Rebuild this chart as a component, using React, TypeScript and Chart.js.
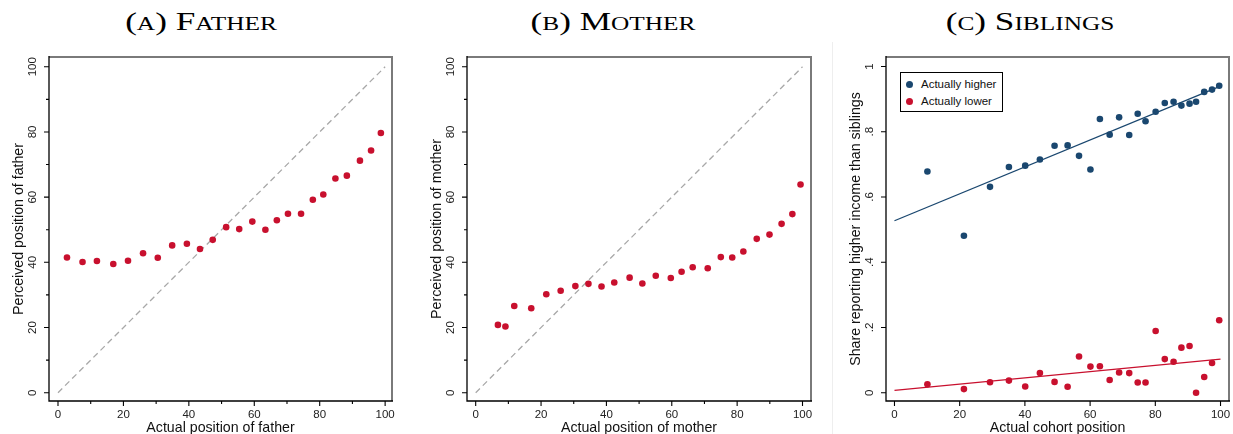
import React, { useEffect, useLayoutEffect, useRef, useState } from 'react';
import { Chart, registerables } from 'chart.js';

Chart.register(...registerables);

// ---------- Data ----------
const fatherX = [2.75, 7.5, 11.9, 16.9, 21.4, 26.0, 30.5, 34.9, 39.4, 43.4, 47.3, 51.4, 55.4, 59.4, 63.4, 66.9, 70.3, 74.3, 77.9, 81.1, 84.8, 88.3, 92.3, 95.7, 98.7];
const fatherY = [41.5, 40.1, 40.4, 39.5, 40.5, 42.8, 41.4, 45.2, 45.7, 44.1, 46.9, 50.8, 50.2, 52.5, 50.0, 52.9, 54.9, 54.9, 59.2, 60.8, 65.7, 66.6, 71.2, 74.3, 79.7];

const motherX = [6.8, 9.1, 11.8, 17.0, 21.6, 26.0, 30.5, 34.5, 38.5, 42.4, 47.1, 51.0, 55.1, 59.7, 63.0, 66.4, 71.0, 75.0, 78.5, 81.9, 86.0, 89.9, 93.6, 96.9, 99.4];
const motherY = [20.8, 20.3, 26.6, 25.9, 30.2, 31.3, 32.7, 33.4, 32.6, 33.8, 35.3, 33.5, 35.9, 35.2, 37.1, 38.5, 38.2, 41.6, 41.5, 43.3, 47.2, 48.5, 51.8, 54.8, 63.9];

const siblingsX = [10.1, 21.3, 29.3, 35.1, 40.1, 44.6, 49.1, 53.1, 56.6, 60.1, 63.0, 66.0, 68.9, 72.0, 74.6, 77.0, 80.1, 82.9, 85.6, 88.0, 90.5, 92.5, 95.0, 97.4, 99.6];
const actuallyHigher = [0.678, 0.481, 0.631, 0.692, 0.696, 0.715, 0.757, 0.758, 0.726, 0.684, 0.839, 0.791, 0.844, 0.790, 0.855, 0.832, 0.861, 0.888, 0.892, 0.880, 0.886, 0.892, 0.922, 0.929, 0.941];
const actuallyLower = [0.026, 0.011, 0.032, 0.037, 0.019, 0.060, 0.033, 0.018, 0.111, 0.080, 0.081, 0.039, 0.062, 0.060, 0.031, 0.031, 0.189, 0.103, 0.095, 0.138, 0.143, 0.000, 0.048, 0.091, 0.222];

// fitted lines (endpoints)
const fitX = [0, 100];
const fitHigher = [0.527, 0.940];
const fitLower = [0.007, 0.103];

// 45-degree reference line
const diagX = [0, 100];
const diagY = [0, 100];

// ticks
const posTicks = [0, 20, 40, 60, 80, 100];
const posMinorTicks = [10, 30, 50, 70, 90];
const posTickLabels = ['0', '20', '40', '60', '80', '100'];
const shareTicks = [0, 0.2, 0.4, 0.6, 0.8, 1];
const shareTickLabels = ['0', '.2', '.4', '.6', '.8', '1'];

const RED = '#c8102e';
const BLUE = '#1a476f';
const SANS = '"Liberation Sans", Arial, sans-serif';

const pts = (xs: number[], ys: number[]) => xs.map((x, i) => ({ x, y: ys[i] }));

interface PanelProps {
  canvasLeft: number;
  canvasWidth: number;
  boxLeft: number;
  boxRight: number;
  xRange: [number, number];
  yRange: [number, number];
  xTicks: number[];
  xMinor: number[];
  xLabels: string[];
  yTicks: number[];
  yMinor: number[];
  yLabels: string[];
  yLabelWidest: number;
  xTitle: string;
  yTitle: string;
  datasets: any[];
}

const H = 434;
const BOX_TOP = 57;
const BOX_BOTTOM = 401;

function Panel(p: PanelProps) {
  const ref = useRef<HTMLCanvasElement>(null);
  useEffect(() => {
    if (!ref.current) return;
    const yAxisWidth = p.boxLeft - p.canvasLeft;
    const padRight = p.canvasLeft + p.canvasWidth - p.boxRight;
    const framePlugin = {
      id: 'frame' + p.canvasLeft,
      afterDraw(chart: any) {
        const { ctx, chartArea } = chart;
        const { left, right, top, bottom } = chartArea;
        const xs = chart.scales.x;
        const ys = chart.scales.y;
        ctx.save();
        ctx.strokeStyle = '#7a7a7a';
        ctx.lineWidth = 2;
        ctx.beginPath();
        ctx.moveTo(left, top);
        ctx.lineTo(right, top);
        ctx.lineTo(right, bottom);
        ctx.stroke();
        ctx.strokeStyle = '#000';
        ctx.lineWidth = 1.3;
        ctx.beginPath();
        ctx.moveTo(left, top - 1);
        ctx.lineTo(left, bottom);
        ctx.lineTo(right + 1, bottom);
        ctx.stroke();
        ctx.lineWidth = 1.1;
        ctx.beginPath();
        p.xTicks.forEach((v) => {
          const px = xs.getPixelForValue(v);
          ctx.moveTo(px, bottom);
          ctx.lineTo(px, bottom + 5);
        });
        p.xMinor.forEach((v) => {
          const px = xs.getPixelForValue(v);
          ctx.moveTo(px, bottom);
          ctx.lineTo(px, bottom + 3);
        });
        p.yTicks.forEach((v) => {
          const py = ys.getPixelForValue(v);
          ctx.moveTo(left, py);
          ctx.lineTo(left - 5, py);
        });
        p.yMinor.forEach((v) => {
          const py = ys.getPixelForValue(v);
          ctx.moveTo(left, py);
          ctx.lineTo(left - 3, py);
        });
        ctx.stroke();
        ctx.restore();
      },
    };
    const tickFont = { family: SANS, size: 11.5 };
    const titleFont = { family: SANS, size: 14.2, lineHeight: 1 };
    const chart = new Chart(ref.current, {
      type: 'scatter',
      data: { datasets: p.datasets },
      plugins: [framePlugin],
      options: {
        animation: false,
        responsive: false,
        maintainAspectRatio: false,
        layout: { padding: { top: BOX_TOP, right: padRight, bottom: 0, left: 0 } },
        plugins: { legend: { display: false }, tooltip: { enabled: false }, title: { display: false } },
        scales: {
          x: {
            type: 'linear',
            min: p.xRange[0],
            max: p.xRange[1],
            grid: { display: false, drawTicks: false },
            border: { display: false },
            afterBuildTicks: (s: any) => {
              s.ticks = p.xTicks.map((v) => ({ value: v }));
            },
            afterFit: (s: any) => {
              s.height = H - BOX_BOTTOM;
              s.paddingLeft = 0;
              s.paddingRight = 0;
            },
            ticks: {
              font: tickFont,
              color: '#222',
              padding: 7.1,
              maxRotation: 0,
              minRotation: 0,
              autoSkip: false,
              callback: (_v: any, i: number) => p.xLabels[i],
            },
            title: {
              display: true,
              text: p.xTitle,
              font: titleFont,
              color: '#111',
              padding: { top: 0, bottom: -1.5 },
            },
          },
          y: {
            type: 'linear',
            min: p.yRange[0],
            max: p.yRange[1],
            grid: { display: false, drawTicks: false },
            border: { display: false },
            afterBuildTicks: (s: any) => {
              s.ticks = p.yTicks.map((v) => ({ value: v }));
            },
            afterFit: (s: any) => {
              s.width = yAxisWidth;
              s.paddingTop = 0;
              s.paddingBottom = 0;
            },
            ticks: {
              font: tickFont,
              color: '#222',
              padding: 16.5 - p.yLabelWidest / 2,
              minRotation: 90,
              maxRotation: 90,
              crossAlign: 'center',
              autoSkip: false,
              callback: (_v: any, i: number) => p.yLabels[i],
            },
            title: {
              display: true,
              text: p.yTitle,
              font: titleFont,
              color: '#111',
              padding: { top: 12, bottom: 0 },
            },
          },
        },
      } as any,
    });
    return () => chart.destroy();
  }, []);
  return (
    <canvas
      ref={ref}
      width={p.canvasWidth}
      height={H}
      style={{ position: 'absolute', left: p.canvasLeft, top: 0, width: p.canvasWidth, height: H }}
    />
  );
}

const diagDataset = {
  data: pts(diagX, diagY),
  showLine: true,
  borderColor: '#a8a8a8',
  borderWidth: 1.3,
  borderDash: [6, 4],
  pointRadius: 0,
  fill: false,
};

const dotStyle = (c: string) => ({
  backgroundColor: c,
  borderColor: c,
  borderWidth: 0,
  pointRadius: 3.3,
});

export default function App() {
  const refA = useRef<HTMLSpanElement>(null);
  const [sx, setSx] = useState(1);
  useLayoutEffect(() => {
    if (refA.current) {
      const w = refA.current.offsetWidth;
      if (w > 0) setSx(152 / w);
    }
  }, []);

  const titleStyle = (center: number): React.CSSProperties => ({
    position: 'absolute',
    left: center,
    top: 9,
    fontFamily: '"Liberation Serif", "Times New Roman", serif',
    fontSize: 25,
    lineHeight: '25px',
    fontVariant: 'small-caps',
    whiteSpace: 'nowrap',
    color: '#000',
    transform: `translateX(-50%) scaleX(${sx})`,
    transformOrigin: 'center',
  });

  return (
    <div style={{ position: 'fixed', left: 0, top: 0, width: 1233, height: H, background: '#fff', overflow: 'hidden' }}>
      <span ref={refA} style={titleStyle(201)}>(a) Father</span>
      <span style={titleStyle(613)}>(b) Mother</span>
      <span style={titleStyle(1030)}>(c) Siblings</span>

      <div style={{ position: 'absolute', left: 832, top: 42, width: 1, height: H - 42, background: '#eeeeee' }} />

      <Panel
        canvasLeft={0}
        canvasWidth={410}
        boxLeft={49}
        boxRight={392}
        xRange={[-2.75, 102.1]}
        yRange={[-2.55, 103]}
        xTicks={posTicks}
        xMinor={posMinorTicks}
        xLabels={posTickLabels}
        yTicks={posTicks}
        yMinor={posMinorTicks}
        yLabels={posTickLabels}
        yLabelWidest={19.2}
        xTitle="Actual position of father"
        yTitle="Perceived position of father"
        datasets={[
          { data: pts(fatherX, fatherY), ...dotStyle(RED) },
          diagDataset,
        ]}
      />
      <Panel
        canvasLeft={418}
        canvasWidth={413}
        boxLeft={467}
        boxRight={811}
        xRange={[-2.66, 102.6]}
        yRange={[-2.55, 103]}
        xTicks={posTicks}
        xMinor={posMinorTicks}
        xLabels={posTickLabels}
        yTicks={posTicks}
        yMinor={posMinorTicks}
        yLabels={posTickLabels}
        yLabelWidest={19.2}
        xTitle="Actual position of mother"
        yTitle="Perceived position of mother"
        datasets={[
          { data: pts(motherX, motherY), ...dotStyle(RED) },
          diagDataset,
        ]}
      />
      <Panel
        canvasLeft={837}
        canvasWidth={396}
        boxLeft={886}
        boxRight={1229}
        xRange={[-2.6, 102.6]}
        yRange={[-0.0255, 1.029]}
        xTicks={posTicks}
        xMinor={[]}
        xLabels={posTickLabels}
        yTicks={shareTicks}
        yMinor={[]}
        yLabels={shareTickLabels}
        yLabelWidest={9.6}
        xTitle="Actual cohort position"
        yTitle="Share reporting higher income than siblings"
        datasets={[
          { data: pts(siblingsX, actuallyHigher), ...dotStyle(BLUE) },
          { data: pts(siblingsX, actuallyLower), ...dotStyle(RED) },
          { data: pts(fitX, fitHigher), showLine: true, borderColor: BLUE, borderWidth: 1.3, pointRadius: 0 },
          { data: pts(fitX, fitLower), showLine: true, borderColor: RED, borderWidth: 1.3, pointRadius: 0 },
        ]}
      />

      <div
        style={{
          position: 'absolute',
          left: 900,
          top: 72,
          width: 103,
          height: 40,
          boxSizing: 'border-box',
          border: '1px solid #000',
          background: '#fff',
          fontFamily: SANS,
          fontSize: 11.5,
          color: '#111',
        }}
      >
        {[
          { label: 'Actually higher', color: BLUE, cy: 11 },
          { label: 'Actually lower', color: RED, cy: 28 },
        ].map((it) => (
          <div key={it.label}>
            <div
              style={{
                position: 'absolute',
                left: 5,
                top: it.cy - 3.5,
                width: 7,
                height: 7,
                borderRadius: '50%',
                background: it.color,
              }}
            />
            <div style={{ position: 'absolute', left: 20, top: it.cy - 7, lineHeight: '14px', whiteSpace: 'nowrap' }}>
              {it.label}
            </div>
          </div>
        ))}
      </div>
    </div>
  );
}
